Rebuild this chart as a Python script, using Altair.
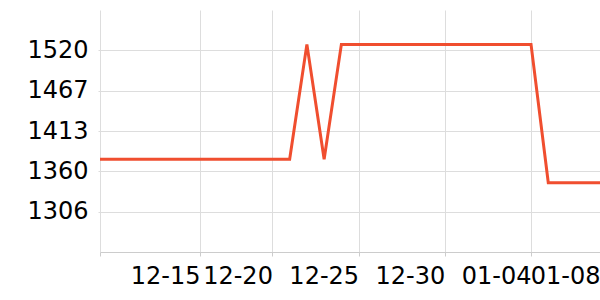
import altair as alt
import pandas as pd

dates = ["2023-12-10", "2023-12-11", "2023-12-12", "2023-12-13", "2023-12-14",
         "2023-12-15", "2023-12-16", "2023-12-17", "2023-12-18", "2023-12-19",
         "2023-12-20", "2023-12-21", "2023-12-22", "2023-12-23", "2023-12-24",
         "2023-12-25", "2023-12-26", "2023-12-27", "2023-12-28", "2023-12-29",
         "2023-12-30", "2023-12-31", "2024-01-01", "2024-01-02", "2024-01-03",
         "2024-01-04", "2024-01-05", "2024-01-06", "2024-01-07", "2024-01-08"]
values = [1375.5, 1375.5, 1375.5, 1375.5, 1375.5,
          1375.5, 1375.5, 1375.5, 1375.5, 1375.5,
          1375.5, 1375.5, 1528, 1375.5, 1528,
          1528, 1528, 1528, 1528, 1528,
          1528, 1528, 1528, 1528, 1528,
          1528, 1344.5, 1344.5, 1344.5, 1344.5]

y_ticks = [1306.1, 1359.6, 1413.1, 1466.6, 1520.1]
y_domain = [1252.6, 1573.6]

df = pd.DataFrame({"date": [d + "T00:00:00" for d in dates], "value": values})

x_ticks = [
    alt.DateTime(year=2023, month=12, date=10),
    alt.DateTime(year=2023, month=12, date=15, hours=19, minutes=12),
    alt.DateTime(year=2023, month=12, date=20),
    alt.DateTime(year=2023, month=12, date=25),
    alt.DateTime(year=2023, month=12, date=30),
    alt.DateTime(year=2024, month=1, date=4),
    alt.DateTime(year=2024, month=1, date=8),
]

chart = alt.Chart(df).mark_line(color="#f04e2f", strokeWidth=3, strokeJoin="miter").encode(
    x=alt.X("date:T",
            scale=alt.Scale(domain=[alt.DateTime(year=2023, month=12, date=10),
                                    alt.DateTime(year=2024, month=1, date=8)]),
            axis=alt.Axis(values=x_ticks, title=None,
                          labelExpr="datum.value < datetime(2023, 11, 11) ? '' : timeFormat(datum.value, '%m-%d')",
                          labelAlign="right", labelFontSize=24, labelColor="#000",
                          labelFont="DejaVu Sans", labelPadding=8, tickSize=4,
                          tickColor="#ccc", domainColor="#ccc", gridColor="#ddd",
                          labelOverlap=False, labelFlush=False, labelBound=False)),
    y=alt.Y("value:Q",
            scale=alt.Scale(domain=y_domain, nice=False, zero=False),
            axis=alt.Axis(values=y_ticks, format=".0f", title=None, domain=False,
                          labelFontSize=24, labelColor="#000", labelFont="DejaVu Sans",
                          tickSize=2, tickColor="#ddd", gridColor="#ddd", labelPadding=10,
                          labelOverlap=False)),
).properties(
    width=500, height=242,
    autosize=alt.AutoSizeParams(type="none"),
    padding={"left": 100, "top": 10, "right": 0, "bottom": 48},
).configure_view(stroke=None)

chart.save("out.html", embed_options={"renderer": "svg", "actions": False})
